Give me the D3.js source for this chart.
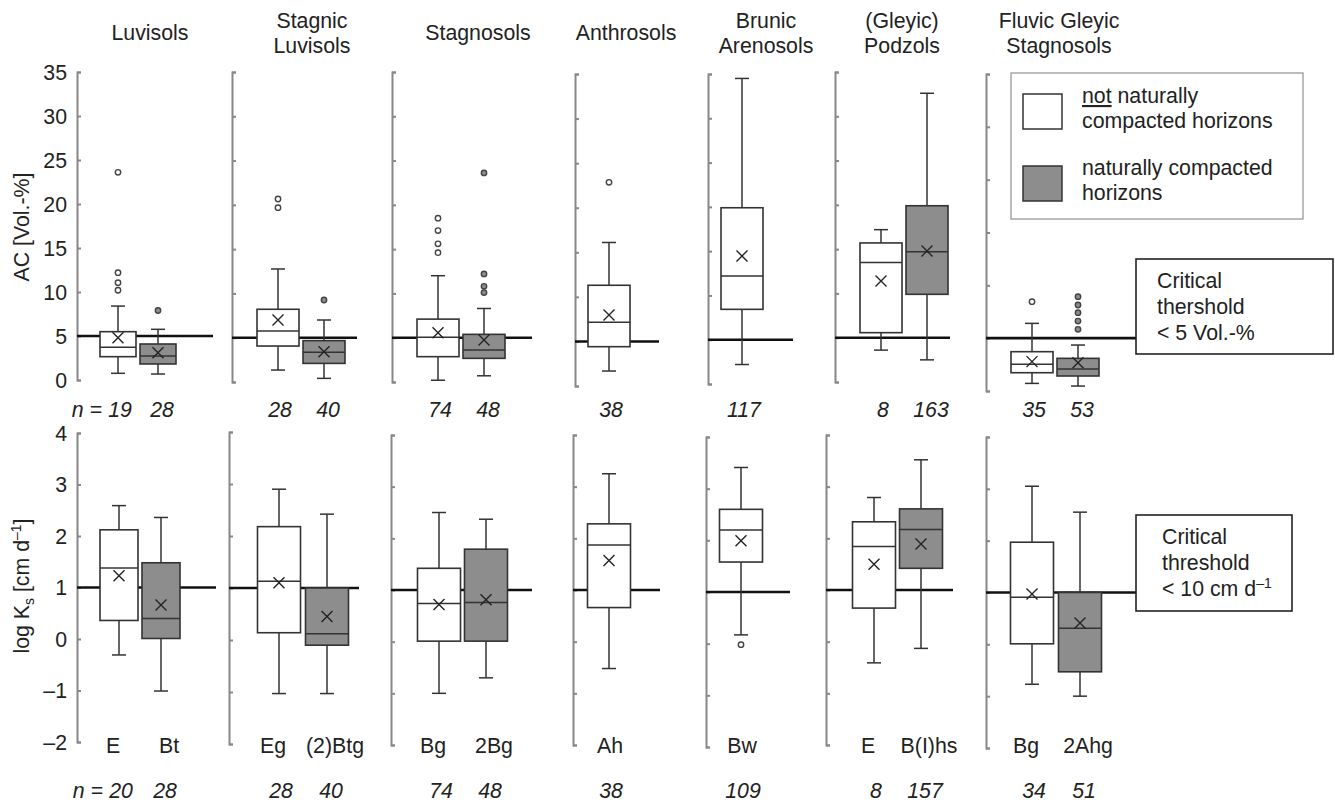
<!DOCTYPE html>
<html lang="en">
<head>
<meta charset="UTF-8">
<script src="https://d3js.org/d3.v7.min.js"></script>
<style>
    body { margin: 0; background: #fff; }
    text { font-family: "Liberation Sans", Arial, Helvetica, sans-serif; font-size: 21.3px; fill: #222; }
</style>
</head>
<body>
<script>
    // soil groups (title lines), horizons and which box is a naturally compacted horizon
    let soilTitles = [["Luvisols"], ["Stagnic", "Luvisols"], ["Stagnosols"], ["Anthrosols"],
        ["Brunic", "Arenosols"], ["(Gleyic)", "Podzols"], ["Fluvic Gleyic", "Stagnosols"]];
    let horizons = [["E", "Bt"], ["Eg", "(2)Btg"], ["Bg", "2Bg"], ["Ah"], ["Bw"], ["E", "B(I)hs"], ["Bg", "2Ahg"]];
    let compacted = [[false, true], [false, true], [false, true], [false], [false], [false, true], [false, true]];
    let nAC = [[19, 28], [28, 40], [74, 48], [38], [117], [8, 163], [35, 53]];
    let nKs = [[20, 28], [28, 40], [74, 48], [38], [109], [8, 157], [34, 51]];

    // air capacity AC [Vol.-%]
    let acMin = [[0.76, 0.68], [1.35, 0.41], [0.2, 0.7], [1.68], [2.2], [3.6, 2.5], [0.72, 0.47]];
    let acQ1 = [[2.65, 1.82], [4.06, 2.1], [2.86, 2.67], [4.41], [8.43], [5.57, 9.9], [1.73, 1.42]];
    let acMedian = [[3.71, 2.73], [5.76, 3.35], [5.05, 3.6], [7.14], [12.2], [13.5, 14.7], [2.52, 2.08]];
    let acQ3 = [[5.49, 4.09], [8.21, 4.67], [7.1, 5.38], [11.3], [19.9], [15.7, 19.9], [3.72, 3.09]];
    let acMax = [[8.4, 5.76], [12.76, 7.0], [12.0, 8.3], [16.1], [34.5], [17.2, 32.6], [6.4, 4.35]];
    let acMean = [[4.8, 3.1], [7.0, 3.42], [5.57, 4.74], [7.96], [14.45], [11.4, 14.8], [2.78, 2.68]];
    let acOutliers = [[[10.2, 11.05, 12.2, 23.6], [7.9]], [[19.68, 20.66], [9.26]],
        [[14.6, 15.6, 17.1, 18.5], [10.1, 10.8, 12.2, 23.6]], [[22.85]], [[]], [[], []],
        [[8.45], [5.84, 6.62, 7.41, 8.14, 8.93]]];

    // saturated hydraulic conductivity log Ks [cm d-1]
    let ksMin = [[-0.31, -1.01], [-1.03, -1.03], [-1.0, -0.7], [-0.52], [0.17], [-0.41, -0.13], [-0.77, -1.0]];
    let ksQ1 = [[0.36, 0.01], [0.14, -0.1], [0.01, 0.01], [0.66], [1.58], [0.65, 1.42], [0.01, -0.53]];
    let ksMedian = [[1.38, 0.4], [1.13, 0.12], [0.74, 0.76], [1.87], [2.2], [1.84, 2.17], [0.91, 0.31]];
    let ksQ3 = [[2.12, 1.48], [2.18, 1.0], [1.42, 1.79], [2.28], [2.6], [2.32, 2.57], [1.97, 1.0]];
    let ksMax = [[2.59, 2.36], [2.9, 2.42], [2.5, 2.37], [3.25], [3.41], [2.79, 3.52], [3.05, 2.55]];
    let ksMean = [[1.23, 0.66], [1.1, 0.45], [0.72, 0.81], [1.57], [1.99], [1.5, 1.89], [0.97, 0.41]];
    let ksOutliers = [[[], []], [[], []], [[], []], [[]], [[-0.02]], [[], []], [[], []]];

    // axis domains per panel (the last AC panel is drawn on a shorter axis in the original)
    let acDomainMax = [35, 35, 35, 35, 35, 35, 30];
    let ksDomain = [-2, 4];
    let acTicks = [0, 5, 10, 15, 20, 25, 30, 35];
    let ksTicks = [-2, -1, 0, 1, 2, 3, 4];

    let rows = [
        {
            min: acMin, q1: acQ1, med: acMedian, q3: acQ3, max: acMax, mean: acMean, out: acOutliers, n: nAC,
            threshold: 5, ticks: acTicks,
            yTop: [72, 72, 72, 74, 74, 72, 74], yBot: [380, 382, 382, 386, 384, 382, 391],
            axisX: [77, 232, 392, 575, 708, 835, 986],
            offs: [[41, 81], [46, 92], [46, 92], [34], [34], [46, 92], [46, 92]],
            boxW: [36, 42, 42, 42, 42, 42, 42],
            lineEnd: [136, 125, 140, 84, 85, 115, 150],
            nY: 417
        },
        {
            min: ksMin, q1: ksQ1, med: ksMedian, q3: ksQ3, max: ksMax, mean: ksMean, out: ksOutliers, n: nKs,
            threshold: 1, ticks: ksTicks,
            yTop: [433, 432, 435, 435, 437, 435, 437], yBot: [742, 744, 745, 745, 747, 745, 748],
            axisX: [77, 229, 391, 573, 706, 826, 986],
            offs: [[42, 84], [50, 98], [48, 95], [36], [35], [48, 95], [46, 94]],
            boxW: [38, 43, 43, 43, 43, 43, 43],
            lineEnd: [139, 130, 141, 87, 84, 127, 150],
            nY: 798
        }
    ];
    let titleX = [150, 312, 478, 626, 766, 902, 1059];

    let grey = "#8d8d8d";
    let ink = "#333";

    let svg = d3.select("body").append("svg")
        .attr("width", 1335)
        .attr("height", 803);

    // titles
    soilTitles.forEach((lines, p) => {
        let base = lines.length == 1 ? [40] : [28, 53];
        lines.forEach((l, k) => {
            svg.append("text")
                .attr("x", titleX[p])
                .attr("y", base[k])
                .attr("text-anchor", "middle")
                .text(l);
        });
    });

    function fmt(d) {
        return d < 0 ? "\u2013" + Math.abs(d) : String(d);
    }

    rows.forEach((row, r) => {
        for (let p = 0; p < horizons.length; p++) {
            let lo = r == 0 ? 0 : ksDomain[0];
            let hi = r == 0 ? acDomainMax[p] : ksDomain[1];
            let y = d3.scaleLinear()
                .domain([lo, hi])
                .range([row.yBot[p], row.yTop[p]]);
            let ax = row.axisX[p];
            let g = svg.append("g");

            // panel axis, ticks point inward
            let axis = d3.axisRight(y)
                .tickValues(row.ticks.filter(t => t >= lo && t <= hi))
                .tickSize(4)
                .tickSizeOuter(4)
                .tickFormat("");
            let ag = g.append("g")
                .attr("transform", "translate(" + ax + ",0)")
                .call(axis);
            ag.selectAll("path, line")
                .attr("stroke", "#888")
                .attr("stroke-width", 2);

            if (p == 0) {
                row.ticks.forEach(t => {
                    g.append("text")
                        .attr("x", ax - 10)
                        .attr("y", y(t) + 7.5)
                        .attr("text-anchor", "end")
                        .text(fmt(t));
                });
            }

            // critical threshold line
            g.append("line")
                .attr("x1", ax)
                .attr("x2", ax + row.lineEnd[p])
                .attr("y1", y(row.threshold))
                .attr("y2", y(row.threshold))
                .attr("stroke", "#111")
                .attr("stroke-width", 2.6);

            let x = d3.scaleOrdinal()
                .domain(horizons[p])
                .range(row.offs[p].map(o => ax + o));
            let w = row.boxW[p];

            horizons[p].forEach((h, i) => {
                let cx = x(h);
                let fill = compacted[p][i] ? grey : "#fff";

                g.append("line")
                    .attr("x1", cx).attr("x2", cx)
                    .attr("y1", y(row.min[p][i]))
                    .attr("y2", y(row.max[p][i]))
                    .attr("stroke", ink)
                    .attr("stroke-width", 1.5);
                [row.min[p][i], row.max[p][i]].forEach(v => {
                    g.append("line")
                        .attr("x1", cx - 7).attr("x2", cx + 7)
                        .attr("y1", y(v)).attr("y2", y(v))
                        .attr("stroke", ink)
                        .attr("stroke-width", 1.5);
                });
                g.append("rect")
                    .attr("x", cx - w / 2)
                    .attr("y", y(row.q3[p][i]))
                    .attr("width", w)
                    .attr("height", y(row.q1[p][i]) - y(row.q3[p][i]))
                    .attr("fill", fill)
                    .attr("stroke", ink)
                    .attr("stroke-width", 1.6);
                g.append("line")
                    .attr("x1", cx - w / 2).attr("x2", cx + w / 2)
                    .attr("y1", y(row.med[p][i])).attr("y2", y(row.med[p][i]))
                    .attr("stroke", ink)
                    .attr("stroke-width", 1.5);

                // mean marker
                let my = y(row.mean[p][i]);
                g.append("path")
                    .attr("d", "M" + (cx - 5.5) + "," + (my - 5.5) + "L" + (cx + 5.5) + "," + (my + 5.5) +
                        "M" + (cx + 5.5) + "," + (my - 5.5) + "L" + (cx - 5.5) + "," + (my + 5.5))
                    .attr("stroke", "#222")
                    .attr("stroke-width", 1.4);

                row.out[p][i].forEach(v => {
                    g.append("circle")
                        .attr("cx", cx)
                        .attr("cy", y(v))
                        .attr("r", 2.7)
                        .attr("fill", fill)
                        .attr("stroke", "#444")
                        .attr("stroke-width", 1.4);
                });

                // n labels
                g.append("text")
                    .attr("x", cx + (i == 1 ? 4 : 2))
                    .attr("y", row.nY)
                    .attr("text-anchor", "middle")
                    .attr("font-style", "italic")
                    .text(row.n[p][i]);

                if (r == 1) {
                    let dx = horizons[p].length == 2 ? (i == 0 ? -6 : 8) : 1;
                    g.append("text")
                        .attr("x", cx + dx)
                        .attr("y", 753)
                        .attr("text-anchor", "middle")
                        .text(h);
                }
            });

            if (p == 0) {
                g.append("text")
                    .attr("x", x(horizons[0][0]) - 16)
                    .attr("y", row.nY)
                    .attr("text-anchor", "end")
                    .attr("font-style", "italic")
                    .text("n =");
            }
        }
    });

    // y axis titles
    svg.append("text")
        .attr("transform", "translate(29,227) rotate(-90)")
        .attr("text-anchor", "middle")
        .text("AC [Vol.-%]");
    let ks = svg.append("text")
        .attr("transform", "translate(29,586) rotate(-90)")
        .attr("text-anchor", "middle");
    ks.append("tspan").text("log K");
    ks.append("tspan").attr("dy", 5).style("font-size", "14px").text("s");
    ks.append("tspan").attr("dy", -5).text(" [cm d");
    ks.append("tspan").attr("dy", -8).style("font-size", "14px").text("\u20131");
    ks.append("tspan").attr("dy", 8).text("]");

    // legend
    let legend = svg.append("g");
    legend.append("rect")
        .attr("x", 1011).attr("y", 73)
        .attr("width", 292).attr("height", 146)
        .attr("fill", "#fff")
        .attr("stroke", "#999")
        .attr("stroke-width", 1.3);
    [["#fff", 94], [grey, 166]].forEach(s => {
        legend.append("rect")
            .attr("x", 1023).attr("y", s[1])
            .attr("width", 39).attr("height", 35)
            .attr("fill", s[0])
            .attr("stroke", ink)
            .attr("stroke-width", 1.5);
    });
    let l1 = legend.append("text").attr("x", 1082).attr("y", 103);
    l1.append("tspan").style("text-decoration", "underline").text("not");
    l1.append("tspan").text(" naturally");
    legend.append("text").attr("x", 1082).attr("y", 128).text("compacted horizons");
    legend.append("text").attr("x", 1082).attr("y", 175).text("naturally compacted");
    legend.append("text").attr("x", 1082).attr("y", 200).text("horizons");

    // critical threshold boxes
    function critBox(x, y0, w, h, tx, lines) {
        svg.append("rect")
            .attr("x", x).attr("y", y0)
            .attr("width", w).attr("height", h)
            .attr("fill", "#fff")
            .attr("stroke", "#222")
            .attr("stroke-width", 1.6);
        return lines.map((l, k) => svg.append("text")
            .attr("x", tx)
            .attr("y", y0 + 29 + k * 26)
            .text(l));
    }
    critBox(1136, 259, 197, 95, 1157, ["Critical", "thershold", "< 5 Vol.-%"]);
    let cb = critBox(1136, 515, 156, 96, 1162, ["Critical", "threshold", "< 10 cm d"]);
    cb[2].append("tspan").attr("dy", -8).style("font-size", "14px").text("\u20131");
</script>
</body>
</html>
